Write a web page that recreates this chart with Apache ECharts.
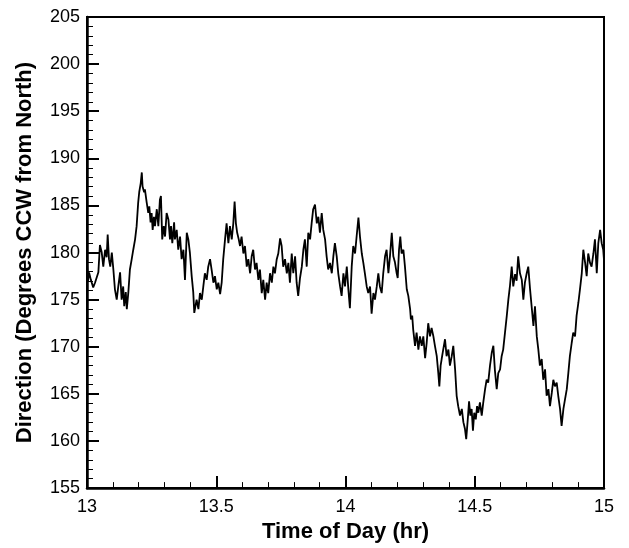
<!DOCTYPE html>
<html>
<head>
<meta charset="utf-8">
<script src="https://cdn.jsdelivr.net/npm/echarts@6/dist/echarts.min.js"></script>
<style>html,body{margin:0;padding:0;background:#fff}#c{width:629px;height:548px}</style>
</head>
<body>
<div id="c"></div>
<script>
var xTicks = [13, 13.5, 14, 14.5, 15];
var yTicks = [155, 160, 165, 170, 175, 180, 185, 190, 195, 200, 205];
var times = [
13.000,13.004,13.008,13.015,13.024,13.031,13.038,13.044,13.050,13.057,13.063,13.070,13.076,13.080,13.085,13.090,13.096,13.102,13.108,13.115,
13.121,13.128,13.134,13.140,13.144,13.150,13.154,13.160,13.166,13.173,13.179,13.186,13.192,13.198,13.202,13.208,13.212,13.215,13.221,13.224,
13.231,13.237,13.241,13.246,13.250,13.254,13.259,13.263,13.270,13.276,13.282,13.286,13.291,13.297,13.302,13.308,13.315,13.321,13.325,13.330,
13.337,13.340,13.347,13.353,13.360,13.366,13.373,13.379,13.386,13.392,13.398,13.405,13.411,13.415,
13.418,13.424,13.431,13.437,13.444,13.450,13.456,13.463,13.469,13.476,13.482,13.489,13.495,13.502,13.508,13.515,13.521,13.527,13.534,13.540,
13.547,13.553,13.560,13.566,13.571,13.576,13.581,13.587,13.592,13.598,13.605,13.611,13.618,13.624,13.631,13.637,13.643,13.650,13.656,13.663,
13.669,13.676,13.682,13.689,13.695,13.701,13.708,13.715,13.721,13.727,13.734,13.740,13.747,13.753,13.759,13.766,13.773,13.779,13.785,13.792,
13.798,13.805,13.811,13.817,13.824,
13.831,13.837,13.843,13.850,13.856,13.863,13.869,13.875,13.882,13.889,13.895,13.901,13.908,13.914,13.921,13.927,13.933,13.940,13.947,13.953,
13.959,13.966,13.972,13.979,13.985,13.992,13.998,14.005,14.011,14.017,14.024,14.030,14.037,14.043,14.050,14.056,14.063,14.069,14.075,14.082,
14.088,14.095,14.101,14.108,14.114,14.121,14.127,14.133,14.140,14.146,14.153,14.159,14.166,14.172,14.179,14.185,14.191,
14.198,14.202,14.207,14.212,14.217,14.224,14.230,14.237,14.243,14.250,14.253,14.258,14.262,14.269,14.275,14.282,14.288,14.295,14.301,14.308,
14.314,14.320,14.327,14.333,14.340,14.346,14.353,14.359,14.363,14.368,14.372,14.378,14.385,14.391,14.398,14.404,14.411,14.417,14.424,14.430,
14.436,14.443,14.450,14.456,14.462,14.467,14.473,14.478,14.483,14.488,14.493,14.498,14.504,14.509,14.514,14.520,14.527,14.533,14.540,14.546,
14.552,14.559,14.566,14.572,14.578,14.585,14.591,14.598,14.604,14.610,14.617,14.624,14.630,14.636,14.643,14.649,14.656,14.662,14.668,14.675,
14.682,14.688,14.694,14.701,14.707,14.714,14.720,14.727,14.733,14.740,14.746,14.752,14.759,14.765,14.772,14.778,14.785,14.791,14.798,14.804,
14.810,14.817,14.823,14.830,14.836,14.843,14.849,14.856,14.862,14.868,14.875,14.881,14.888,14.894,14.901,14.907,14.914,14.920,14.927,14.933,
14.939,14.946,14.952,14.959,14.965,14.972,14.978,14.985,14.991,14.997,15.000
];
var directions = [
178.8,177.0,177.9,177.1,176.3,176.8,176.6,177.9,180.8,180.0,178.5,180.3,179.5,181.9,179.3,178.5,180.0,178.2,176.1,175.0,
176.4,177.9,175.0,176.4,174.3,175.8,174.0,175.8,178.2,179.3,180.3,181.4,182.8,185.3,186.4,187.4,188.5,187.0,186.4,186.7,
185.3,184.2,184.9,183.2,184.2,182.4,183.8,182.8,184.6,182.8,185.6,186.0,181.4,182.8,181.7,184.2,183.5,181.4,182.8,181.0,
183.2,181.4,182.4,180.3,181.7,179.3,180.3,177.1,182.1,181.4,180.0,177.5,175.8,173.6,
173.8,175.0,174.0,175.7,175.0,176.4,177.8,177.1,178.5,179.3,178.2,176.8,177.5,176.1,176.8,175.6,176.8,179.3,181.4,183.1,
181.0,182.8,181.4,183.1,185.4,183.1,182.1,181.4,180.7,181.7,179.9,180.7,178.5,179.3,177.8,179.6,180.3,178.2,178.9,177.1,
178.2,175.7,177.1,175.0,176.8,175.7,177.8,176.8,178.5,177.8,179.3,179.9,181.5,180.7,178.5,179.3,177.8,178.9,176.8,179.9,
177.8,179.6,176.8,175.4,177.3,
178.5,180.3,181.4,178.5,182.1,181.4,183.1,184.6,185.1,183.1,183.8,182.1,184.2,182.4,181.4,179.6,178.2,178.9,177.8,179.6,
181.0,179.6,177.8,176.4,175.4,177.8,176.4,178.5,176.1,174.1,178.5,180.7,179.9,181.7,183.7,181.7,179.9,178.9,177.8,176.4,
175.7,176.4,173.5,175.7,175.0,176.4,177.8,176.4,175.7,177.8,179.6,180.3,177.8,179.6,182.1,179.6,179.0,
177.8,177.3,180.3,181.7,179.9,180.3,178.5,176.1,175.4,174.0,172.9,173.3,171.8,170.1,171.5,169.7,171.1,170.1,171.1,168.8,
170.4,172.5,171.1,172.0,171.1,170.1,169.0,167.2,165.8,168.0,168.7,169.7,170.8,169.0,169.7,168.0,169.0,170.1,167.6,164.8,
163.7,162.7,163.4,162.0,161.3,160.2,162.3,164.2,162.7,163.4,161.1,163.0,162.3,163.7,163.0,164.1,162.7,164.1,165.5,166.5,
166.2,168.0,169.4,170.1,167.5,165.5,167.2,167.6,169.0,169.7,171.5,173.3,175.0,176.4,178.5,176.4,177.7,177.0,179.6,177.8,
177.1,175.0,176.8,177.8,178.5,176.1,174.3,172.2,174.3,171.1,169.7,168.0,168.7,166.5,167.6,164.8,165.5,163.7,165.1,166.5,
165.8,166.2,164.8,163.4,161.6,163.4,164.4,165.5,167.2,169.0,170.4,171.5,171.1,173.3,174.7,176.1,177.8,180.3,178.9,177.5,
179.9,178.9,178.5,179.9,181.4,177.8,181.0,182.4,181.0,180.3,179.2
];
var seriesData = times.map(function (t, i) { return [t, directions[i]]; });

var chart = echarts.init(document.getElementById('c'), null, { renderer: 'canvas' });
var font = 'Liberation Sans, Arial, Helvetica, sans-serif';
chart.setOption({
  animation: false,
  backgroundColor: '#fff',
  grid: { left: 87, top: 17, right: 25, bottom: 59, show: true, borderColor: '#000', borderWidth: 2, backgroundColor: 'transparent' },
  xAxis: {
    type: 'value', min: xTicks[0], max: xTicks[xTicks.length - 1], interval: 0.5,
    name: 'Time of Day (hr)', nameLocation: 'middle', nameGap: 29,
    nameTextStyle: { fontFamily: font, fontSize: 22, fontWeight: 'bold', color: '#000' },
    axisLine: { show: true, onZero: false, lineStyle: { color: '#000', width: 2.5 } },
    axisTick: { show: true, inside: true, length: 12, lineStyle: { color: '#000', width: 2 } },
    minorTick: { show: true, splitNumber: 5, length: 6, lineStyle: { color: '#000', width: 1 } },
    axisLabel: { fontFamily: font, fontSize: 18, color: '#000', margin: 10 },
    splitLine: { show: false }
  },
  yAxis: {
    type: 'value', min: yTicks[0], max: yTicks[yTicks.length - 1], interval: 5,
    name: 'Direction (Degrees CCW from North)', nameLocation: 'middle', nameGap: 51,
    nameTextStyle: { fontFamily: font, fontSize: 22, fontWeight: 'bold', color: '#000' },
    axisLine: { show: true, onZero: false, lineStyle: { color: '#000', width: 2.5 } },
    axisTick: { show: true, inside: true, length: 12, lineStyle: { color: '#000', width: 2 } },
    minorTick: { show: true, splitNumber: 5, length: 6, lineStyle: { color: '#000', width: 1 } },
    axisLabel: { fontFamily: font, fontSize: 18, color: '#000', margin: 7 },
    splitLine: { show: false }
  },
  series: [{
    type: 'line', data: seriesData, showSymbol: false, symbol: 'none',
    lineStyle: { color: '#000', width: 1.8 }, clip: true
  }]
});
</script>
</body>
</html>
